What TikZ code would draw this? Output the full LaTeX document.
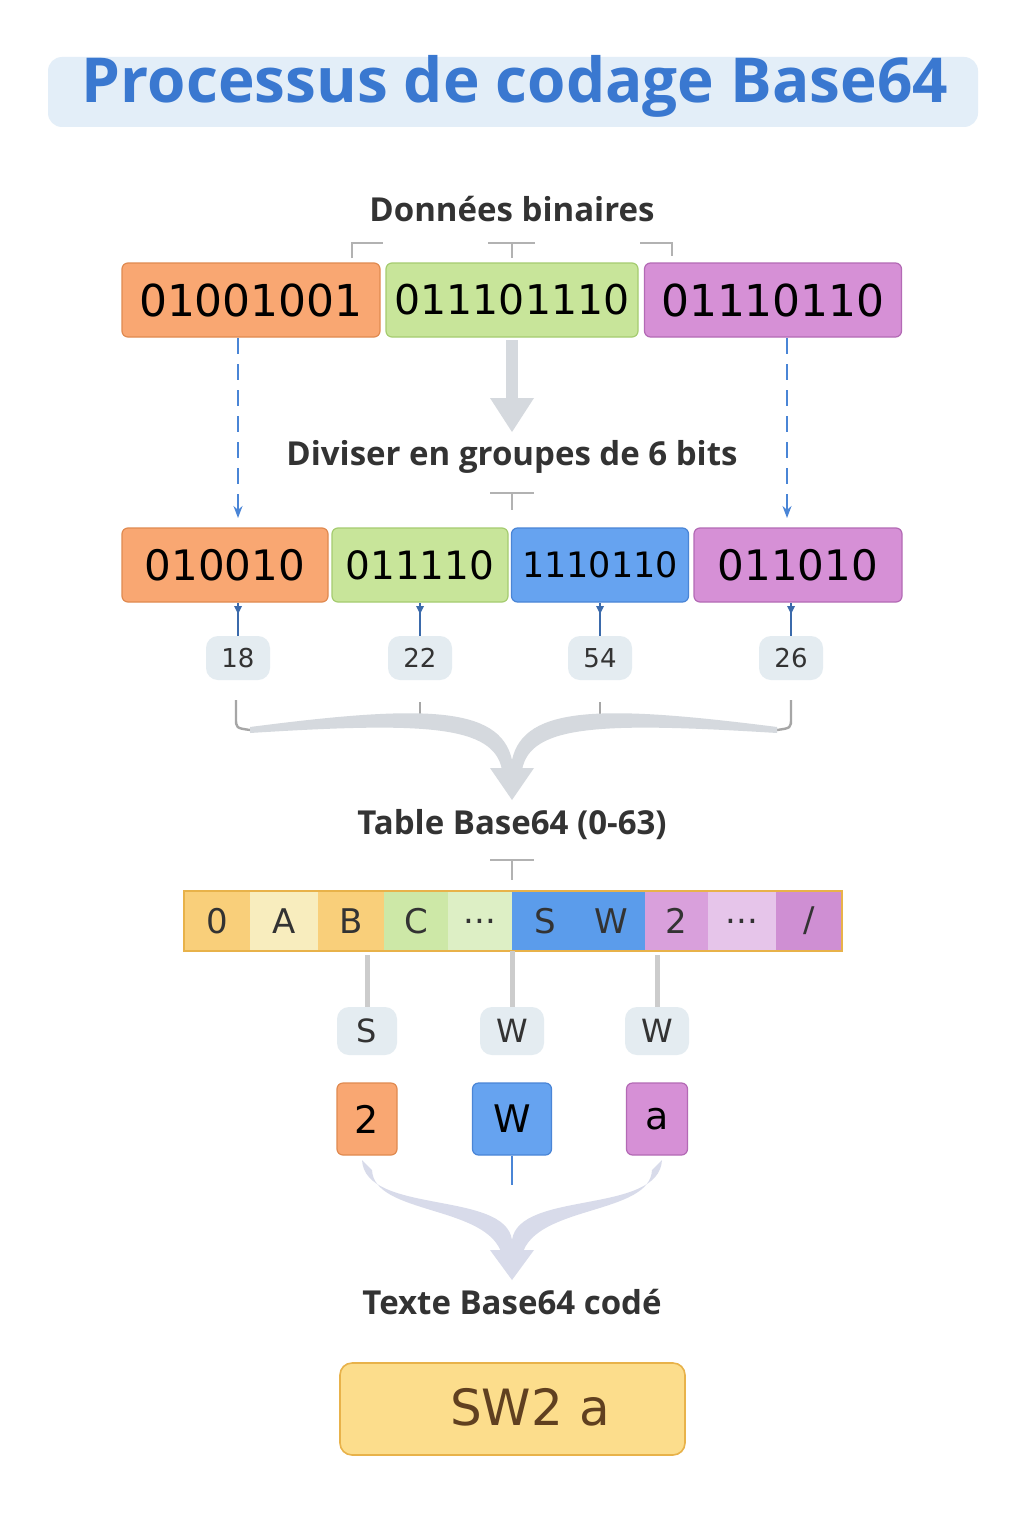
\documentclass[tikz,border=0pt]{standalone}
\usepackage{fontspec}
\setmainfont{Open Sans}
\newfontfamily\dv{DejaVu Sans}
\usetikzlibrary{arrows.meta}
\definecolor{tblue}{HTML}{3A78D0}
\definecolor{tbg}{HTML}{E3EEF8}
\definecolor{dark}{HTML}{333333}
\definecolor{ora}{HTML}{F9A772}\definecolor{orab}{HTML}{E08A50}
\definecolor{gre}{HTML}{C8E59A}\definecolor{greb}{HTML}{A5CC70}
\definecolor{pur}{HTML}{D690D6}\definecolor{purb}{HTML}{B36AB5}
\definecolor{blu}{HTML}{66A3F0}\definecolor{blub}{HTML}{4A85D6}
\definecolor{pill}{HTML}{E4ECF1}
\definecolor{fun}{HTML}{D5D9DE}
\definecolor{fun2}{HTML}{D8DBEA}
\definecolor{yel}{HTML}{FCDD8C}\definecolor{yelb}{HTML}{E8B24A}
\definecolor{c0}{HTML}{F9CF7A}\definecolor{c1}{HTML}{F8EDBE}
\definecolor{c3}{HTML}{CDE8A7}\definecolor{c4}{HTML}{DDEFC5}
\definecolor{c5}{HTML}{5B9CEB}\definecolor{c7}{HTML}{D9A0DC}
\definecolor{c8}{HTML}{E6C5EA}\definecolor{c9}{HTML}{CF8FD3}
\begin{document}
\begin{tikzpicture}[x=0.5pt,y=-0.5pt,
 lab/.style={font=\fontsize{16.5}{19}\selectfont\bfseries, text=dark},
 bx/.style={draw=#1b, fill=#1, rounded corners=3pt, line width=0.6pt, inner sep=0pt, font=\dv\fontsize{22}{26}\selectfont},
 pl/.style={fill=pill, rounded corners=6pt, minimum width=32pt, minimum height=22pt, inner sep=0pt, font=\dv\fontsize{13}{15}\selectfont, text=dark},
 cell/.style={fill=#1, minimum height=30pt, inner sep=0pt, font=\dv\fontsize{17}{20}\selectfont},
 tk/.style={draw=gray!60, line width=1.2pt},
 ar/.style={draw=blub, line width=0.8pt, -{Stealth[length=6pt]}}]
\fill[white] (0,0) rectangle (1024,1536);
\node[fill=tbg, rounded corners=7pt, minimum width=465pt, minimum height=35pt] (title) at (513,92) {};
\node[font=\fontsize{31}{35}\selectfont\bfseries, text=tblue] (tt) at (515,86) {Processus de codage Base64};
\node[lab] (l1) at (512,209) {Données binaires};
\draw[tk] (352,258) |- (383,243);
\draw[tk] (488,243) -- (535,243) (512,243) -- (512,258);
\draw[tk] (640,243) -| (672,256);
\node[bx=ora, minimum width=129pt, minimum height=37pt] (b1) at (251,300) {01001001};
\node[bx=gre, minimum width=126pt, minimum height=37pt, font=\dv\fontsize{20.5}{24}\selectfont] (b2) at (512,300) {011101110};
\node[bx=pur, minimum width=128.5pt, minimum height=37pt] (b3) at (773,300) {01110110};
\node[lab] (l2) at (512,457) {Diviser en groupes de 6 bits};
\draw[tk] (490,493) -- (534,493) (512,493) -- (512,510);
\node[bx=ora, minimum width=103pt, minimum height=37pt, font=\dv\fontsize{21}{24}\selectfont] (c1) at (225,565) {010010};
\node[bx=gre, minimum width=88pt, minimum height=37pt, font=\dv\fontsize{19.5}{24}\selectfont] (c2) at (420,565) {011110};
\node[bx=blu, minimum width=88.5pt, minimum height=37pt, font=\dv\fontsize{17.5}{24}\selectfont] (c3) at (600,565) {1110110};
\node[bx=pur, minimum width=104pt, minimum height=37pt, font=\dv\fontsize{21}{24}\selectfont] (c4) at (798,565) {011010};
\coordinate (d1) at (238,338); \coordinate (e1) at (238,518);
\coordinate (d3) at (787,338); \coordinate (e3) at (787,518);
\draw[ar, dash pattern=on 8pt off 5pt] (d1) -- (e1);
\draw[ar, dash pattern=on 8pt off 5pt] (d3) -- (e3);
\draw[fun, line width=6pt] (512,340) -- (512,400);
\fill[fun] (490,398) -- (534,398) -- (512,432) -- cycle;
\node[pl] (p1) at (238,658) {18};
\node[pl] (p2) at (420,658) {22};
\node[pl] (p3) at (600,658) {54};
\node[pl] (p4) at (791,658) {26};
\foreach \x/\p in {238/p1,420/p2,600/p3,791/p4}{
 \draw[blub!80!black, line width=1pt] (\x,603) -- (\p.north);
 \fill[blub!80!black] (\x-4,606) -- (\x+4,606) -- (\x,614) -- cycle;}
\draw[gray!70, line width=1.2pt] (236,700) -- (236,718) .. controls (236,728) .. (250,730);
\draw[gray!70, line width=1.2pt] (791,700) -- (791,718) .. controls (791,728) .. (777,730);
\draw[gray!70, line width=1.2pt] (420,702) -- (420,717) (600,702) -- (600,717);
\fill[fun] (250,727) .. controls (420,705) and (500,705) .. (512,760) .. controls (524,705) and (604,705) .. (777,727) -- (777,733) .. controls (600,722) and (530,725) .. (522,770) -- (502,770) .. controls (494,725) and (424,722) .. (250,733) -- cycle;
\fill[fun] (490,768) -- (534,768) -- (512,800) -- cycle;
\node[lab] (l3) at (512,825) {Table Base64 (0-63)};
\draw[tk] (490,860) -- (534,860) (512,860) -- (512,880);
\begin{scope}[every node/.style={text=dark}]
\node[cell=c0, minimum width=33pt] (t0) at (217,921) {0};
\node[cell=c1, minimum width=34pt] (t1) at (284,921) {A};
\node[cell=c0, minimum width=33pt] (t2) at (351,921) {B};
\node[cell=c3, minimum width=32pt] (t3) at (416,921) {C};
\node[cell=c4, minimum width=32pt] (t4) at (480,921) {...};
\node[cell=c5, minimum width=33pt] (t5) at (545,921) {S};
\node[cell=c5, minimum width=33.5pt] (t6) at (611.5,921) {W};
\node[cell=c7, minimum width=31.5pt] (t7) at (676.5,921) {2};
\node[cell=c8, minimum width=34pt] (t8) at (742,921) {...};
\node[cell=c9, minimum width=33pt] (t9) at (809,921) {/};
\end{scope}
\draw[yelb, line width=0.8pt] (184,891) rectangle (842,951);
\node[pl, minimum width=30pt, minimum height=24pt, font=\dv\fontsize{16}{18}\selectfont] (s1) at (367,1031) {S};
\node[pl, minimum width=32pt, minimum height=24pt, font=\dv\fontsize{16}{18}\selectfont] (s2) at (512,1031) {W};
\node[pl, minimum width=32pt, minimum height=24pt, font=\dv\fontsize{16}{18}\selectfont] (s3) at (657,1031) {W};
\coordinate (u1) at (367,955); \coordinate (u2) at (512,951); \coordinate (u3) at (657,955);
\draw[gray!40, line width=2.5pt] (u1) -- (s1.north);
\draw[gray!40, line width=2.5pt] (u2) -- (s2.north);
\draw[gray!40, line width=2.5pt] (u3) -- (s3.north);
\node[bx=ora, minimum width=30pt, minimum height=36pt, font=\dv\fontsize{19}{22}\selectfont] (r1) at (367,1119) {2};
\node[bx=blu, minimum width=39.5pt, minimum height=36pt, font=\dv\fontsize{19}{22}\selectfont] (r2) at (512,1119) {W};
\node[bx=pur, minimum width=30.5pt, minimum height=36pt, font=\dv\fontsize{19}{22}\selectfont] (r3) at (657,1119) {a};
\draw[blub, line width=1.2pt] (r2.south) -- (512,1185);
\fill[fun2] (362,1160) .. controls (365,1215) and (505,1190) .. (512,1240) .. controls (519,1190) and (659,1215) .. (662,1160) -- (652,1170) .. controls (650,1215) and (535,1205) .. (522,1255) -- (502,1255) .. controls (489,1205) and (374,1215) .. (372,1170) -- cycle;
\fill[fun2] (490,1250) -- (534,1250) -- (512,1280) -- cycle;
\node[lab] (l4) at (512,1302) {Texte Base64 codé};
\node[draw=yelb, fill=yel, rounded corners=6pt, line width=0.8pt, minimum width=172.5pt, minimum height=46pt] (res) at (512.5,1409) {};
\node[font=\dv\fontsize{25}{30}\selectfont, text=brown!50!black] (rt) at (530,1407) {SW2 a};
\end{tikzpicture}
\end{document}
